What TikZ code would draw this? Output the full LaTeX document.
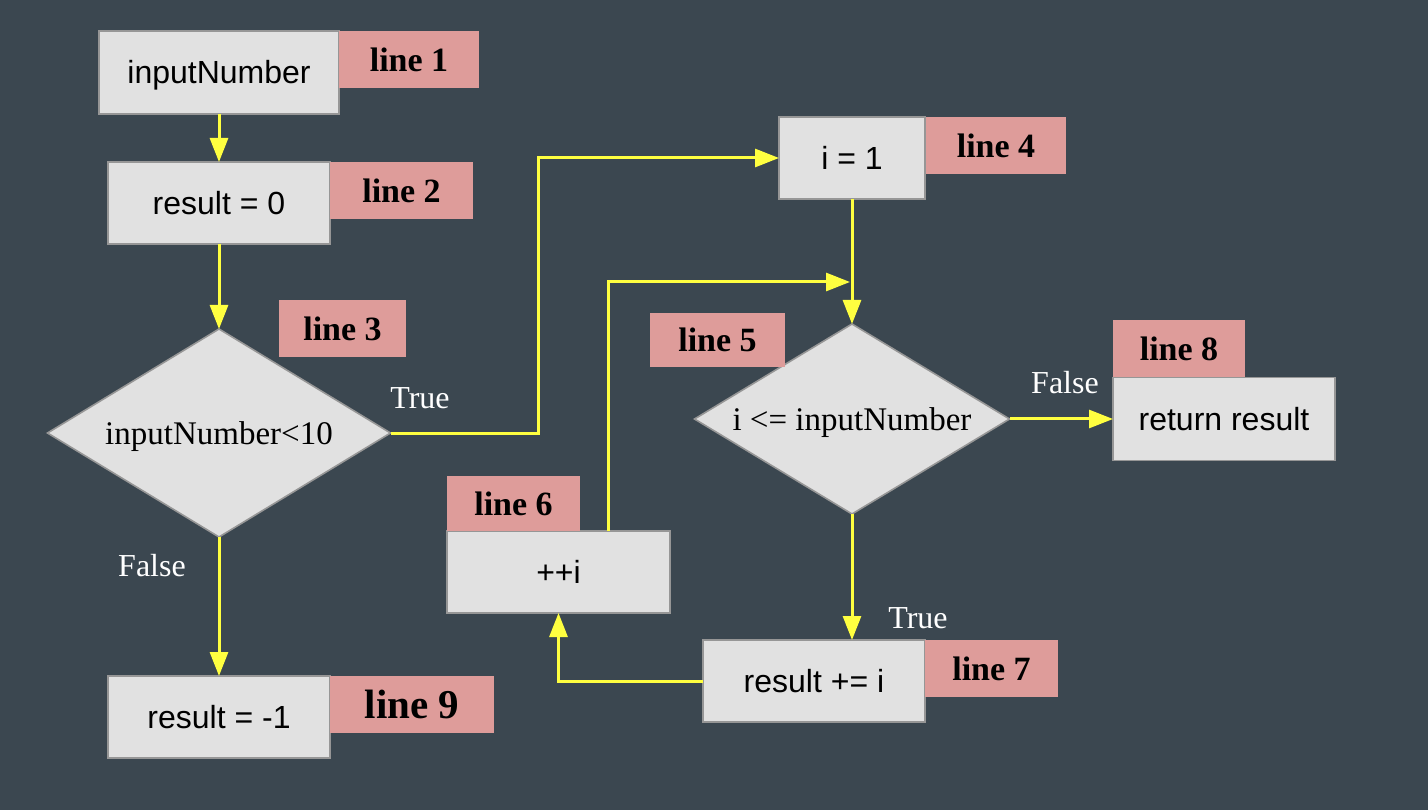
\documentclass[tikz,border=0pt]{standalone}
\usepackage{fontspec}
\setmainfont{Liberation Serif}
\newfontfamily\boxfont{Liberation Sans}
\usetikzlibrary{shapes.geometric,arrows.meta}
\definecolor{bgc}{RGB}{59,71,80}
\definecolor{boxfill}{RGB}{225,225,225}
\definecolor{boxline}{RGB}{150,150,150}
\definecolor{pinkc}{RGB}{222,156,154}
\definecolor{yel}{RGB}{255,255,64}
\tikzset{
  stepbox/.style={draw=boxline, line width=1.6pt, fill=boxfill, inner sep=0pt, outer sep=0pt,
    font=\boxfont\fontsize{32}{38}\selectfont, text=black, text height=23pt, text depth=0pt},
  decbox/.style={diamond, aspect=1.65, draw=boxline, line width=1.6pt, fill=boxfill, inner sep=0pt, outer sep=0pt,
    font=\fontsize{33}{40}\selectfont, text=black, text height=23pt, text depth=0pt},
  tagbox/.style={fill=pinkc, inner sep=0pt, outer sep=0pt, font=\bfseries\fontsize{34}{40}\selectfont, text=black},
  lbl/.style={text=white, font=\fontsize{32}{38}\selectfont, inner sep=0pt},
  arr/.style={draw=yel, line width=3pt, -{Triangle[length=24pt,width=18pt]}}
}
\begin{document}
\begin{tikzpicture}[x=1pt,y=-1pt]
\fill[bgc] (0,0) rectangle (1428,810);
\useasboundingbox (0,0) rectangle (1428,810);

% left column
\node[stepbox, minimum width=240pt, minimum height=83pt] (n1) at (219,72.5) {inputNumber};
\node[tagbox, minimum width=140pt, minimum height=57pt] (l1) at (409,59.5) {line 1};
\node[stepbox, minimum width=222pt, minimum height=82pt] (n2) at (219,203) {result = 0};
\node[tagbox, minimum width=143pt, minimum height=57pt] (l2) at (401.5,190.5) {line 2};
\node[decbox, minimum width=343pt, minimum height=208pt] (d1) at (219,433) {inputNumber<10};
\node[tagbox, minimum width=127pt, minimum height=57pt] (l3) at (342.5,328.5) {line 3};
\node[stepbox, minimum width=222pt, minimum height=82pt] (n9) at (219,717) {result = -1};
\node[tagbox, minimum width=164pt, minimum height=57pt, font=\bfseries\fontsize{41}{46}\selectfont] (l9) at (412,704.5) {line 9};

% right part
\node[stepbox, minimum width=146pt, minimum height=82pt] (n4) at (852,158) {i = 1};
\node[tagbox, minimum width=140pt, minimum height=57pt] (l4) at (996,145.5) {line 4};
\node[decbox, minimum width=315pt, minimum height=190pt] (d2) at (852,419) {i <= inputNumber};
\node[tagbox, minimum width=135pt, minimum height=54pt] (l5) at (717.5,340) {line 5};
\node[stepbox, minimum width=223pt, minimum height=82pt] (n6) at (558.5,572) {++i};
\node[tagbox, minimum width=133pt, minimum height=55pt] (l6) at (513.5,503.5) {line 6};
\node[stepbox, minimum width=222pt, minimum height=82pt] (n7) at (814,681) {result += i};
\node[tagbox, minimum width=133pt, minimum height=57pt] (l7) at (991.5,668.5) {line 7};
\node[stepbox, minimum width=222pt, minimum height=83pt] (n8) at (1224,419) {return result};
\node[tagbox, minimum width=132pt, minimum height=57pt] (l8) at (1179,348.5) {line 8};

% edge labels
\node[lbl] (t1) at (420,398) {True};
\node[lbl] (f1) at (152,566) {False};
\node[lbl] (t2) at (918,618) {True};
\node[lbl] (f2) at (1065,383) {False};

% connectors
\coordinate (c1) at (538,433);
\coordinate (c2) at (608,282);
\coordinate (c3) at (850,282);
\draw[arr] (n1.south) -- (n2.north);
\draw[arr] (n2.south) -- (d1.north);
\draw[arr] (d1.south) -- (n9.north);
\draw[arr] (d1.east) -- (c1) |- (n4.west);
\draw[arr] (n4.south) -- (d2.north);
\draw[arr] (n6.north -| c2) -- (c2) -- (c3);
\draw[arr] (d2.south) -- (d2.south |- n7.north);
\draw[arr] (n7.west) -| (n6.south);
\draw[arr] (d2.east) -- (d2.east -| n8.west);
\end{tikzpicture}
\end{document}
